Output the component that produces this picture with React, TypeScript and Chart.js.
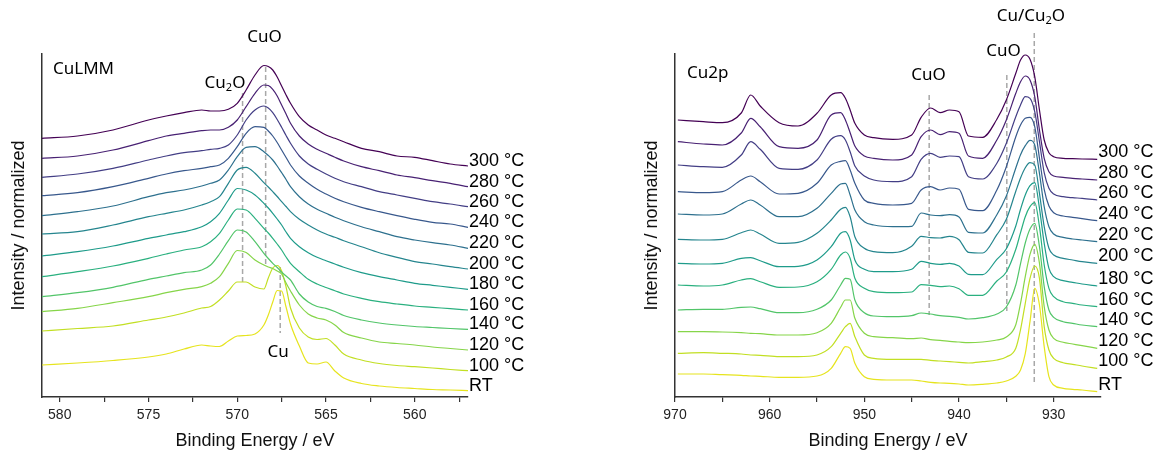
import React, { useEffect, useRef } from 'react';
import { Chart, registerables } from 'chart.js';

Chart.register(...registerables);

// ---------------- shared ----------------
const seriesLabels = ['300 °C', '280 °C', '260 °C', '240 °C', '220 °C', '200 °C', '180 °C', '160 °C', '140 °C', '120 °C', '100 °C', 'RT'];
const seriesColors = ['#440154', '#482173', '#433e85', '#38588c', '#2d708e', '#25858e', '#1e9b8a', '#2ab07f', '#52c569', '#86d549', '#c2df23', '#e6e41e'];

// ---------------- Cu LMM (left panel) ----------------
const lmmEnergy = [581, 579, 577, 575, 574, 573, 572, 571.5, 571, 570.5, 570, 569.5, 569, 568.5, 568.25, 568, 567.75, 567.5, 567.25, 567, 566.5, 566, 565.5, 565, 564.5, 564, 563, 562, 561, 560, 559, 558, 557];
const lmm300 = [25.87, 26.1, 26.7, 27.7, 28.1, 28.43, 28.7, 28.6, 28.6, 28.77, 29.37, 30.7, 32.2, 33.15, 33.05, 32.7, 32.0, 31.1, 30.2, 29.37, 28.03, 27.2, 26.7, 26.2, 25.87, 25.53, 24.87, 24.53, 24.1, 23.97, 23.63, 23.3, 23.1];
const lmm280 = [23.87, 24.1, 24.7, 25.63, 26.1, 26.37, 26.63, 26.7, 26.7, 26.97, 27.7, 29.03, 30.37, 31.2, 31.15, 30.77, 30.1, 29.2, 28.3, 27.37, 26.1, 25.3, 24.77, 24.37, 23.97, 23.6, 23.03, 22.63, 22.2, 21.93, 21.63, 21.37, 21.03];
const lmm260 = [21.97, 22.3, 22.87, 23.7, 24.1, 24.43, 24.63, 24.77, 24.87, 25.2, 26.2, 27.7, 28.7, 29.1, 28.9, 28.43, 27.75, 26.97, 26.15, 25.37, 24.1, 23.3, 22.77, 22.3, 21.87, 21.53, 21.03, 20.53, 20.2, 19.87, 19.53, 19.3, 19.03];
const lmm240 = [20.13, 20.43, 21.03, 21.87, 22.3, 22.63, 22.87, 23.03, 23.2, 23.87, 25.03, 26.37, 27.03, 26.97, 26.6, 26.1, 25.45, 24.7, 23.95, 23.2, 22.1, 21.37, 20.77, 20.3, 19.87, 19.53, 18.97, 18.53, 18.13, 17.77, 17.47, 17.3, 16.97];
const lmm220 = [18.13, 18.53, 19.1, 20.03, 20.43, 20.7, 21.1, 21.37, 21.7, 22.7, 24.03, 24.97, 25.03, 24.53, 24.15, 23.7, 23.1, 22.43, 21.75, 21.03, 20.03, 19.3, 18.77, 18.37, 17.97, 17.63, 17.03, 16.53, 16.03, 15.7, 15.43, 15.2, 14.87];
const lmm200 = [16.3, 16.53, 17.2, 18.03, 18.37, 18.7, 19.2, 19.53, 20.03, 21.37, 22.7, 22.97, 22.37, 21.43, 21.0, 20.53, 20.05, 19.53, 19.05, 18.53, 17.77, 17.2, 16.7, 16.3, 15.97, 15.63, 15.03, 14.43, 13.97, 13.53, 13.3, 13.03, 12.8];
const lmm180 = [14.1, 14.53, 15.1, 15.87, 16.2, 16.53, 17.03, 17.53, 18.37, 19.7, 20.85, 20.7, 20.2, 19.37, 18.9, 18.37, 17.8, 17.2, 16.5, 15.87, 15.03, 14.43, 13.97, 13.63, 13.3, 12.97, 12.43, 12.03, 11.7, 11.37, 11.17, 10.97, 10.77];
const lmm160 = [12.03, 12.53, 13.1, 13.87, 14.3, 14.7, 15.03, 15.53, 16.37, 17.7, 18.8, 18.7, 17.87, 16.87, 16.4, 15.87, 15.3, 14.7, 14.0, 13.37, 12.53, 11.77, 11.3, 10.95, 10.63, 10.3, 9.87, 9.53, 9.3, 9.1, 8.97, 8.83, 8.7];
const lmm140 = [10.03, 10.43, 10.97, 11.77, 12.1, 12.43, 12.7, 13.2, 14.3, 15.63, 16.7, 16.5, 15.53, 14.37, 13.85, 13.37, 12.95, 12.5, 12.1, 11.7, 10.3, 9.5, 9.05, 8.87, 8.55, 8.15, 7.7, 7.4, 7.2, 7.05, 6.95, 6.85, 6.77];
const lmm120 = [8.53, 8.87, 9.43, 10.03, 10.43, 10.77, 11.03, 11.37, 12.03, 13.37, 14.65, 14.45, 13.7, 13.2, 13.0, 12.85, 12.6, 12.3, 11.4, 10.6, 9.2, 8.3, 7.9, 7.7, 7.2, 6.45, 5.9, 5.5, 5.35, 5.2, 5.0, 4.85, 4.7];
const lmm100 = [6.6, 6.85, 7.1, 7.7, 8.0, 8.4, 8.9, 9.05, 9.7, 10.6, 11.5, 11.5, 11.0, 10.8, 11.9, 12.9, 13.15, 12.6, 11.0, 8.9, 6.9, 6.0, 5.75, 5.85, 5.2, 4.3, 3.7, 3.35, 3.15, 3.03, 2.9, 2.75, 2.63];
const lmmRT = [3.2, 3.4, 3.65, 4.0, 4.3, 4.8, 5.2, 5.1, 5.05, 5.6, 6.1, 6.15, 6.3, 7.2, 8.2, 9.5, 10.65, 10.6, 9.0, 7.3, 5.1, 3.4, 3.3, 3.5, 2.6, 1.9, 1.35, 1.1, 0.95, 0.85, 0.75, 0.7, 0.63];
const lmmSeries = [lmm300, lmm280, lmm260, lmm240, lmm220, lmm200, lmm180, lmm160, lmm140, lmm120, lmm100, lmmRT];
const lmmTicks = [580, 577.5, 575, 572.5, 570, 567.5, 565, 562.5, 560, 557.5];
const lmmMarkers = [
  { energy: 569.7, top: 30.4, bottom: 11.3 },
  { energy: 568.4, top: 33.0, bottom: 13.0 },
  { energy: 567.58, top: 13.0, bottom: 6.4 },
];
const lmmTexts = [
  { text: 'CuLMM', energy: 580.38, value: 32.8, align: 'left' },
  { text: 'Cu_2O', energy: 570.69, value: 31.43, align: 'center' },
  { text: 'CuO', energy: 568.46, value: 35.95, align: 'center' },
  { text: 'Cu', energy: 567.7, value: 4.5, align: 'center' },
];

// ---------------- Cu 2p (right panel) ----------------
const cu2pEnergy = [969.7, 967, 965, 963, 962, 961, 959, 957, 955, 953.5, 952.5, 952, 951.5, 951, 950, 949, 947, 945, 944, 943, 942, 941, 940, 939, 937.5, 936, 935, 934, 933.5, 933, 932.5, 932, 931.5, 931, 930.5, 930, 929, 928, 927, 925.4];
const cu2p300 = [27.7, 27.53, 27.43, 28.4, 30.2, 29.1, 27.43, 27.1, 28.37, 30.2, 30.43, 29.87, 28.7, 27.37, 26.2, 25.93, 25.77, 26.2, 27.97, 28.9, 28.43, 28.7, 28.53, 26.1, 25.97, 27.77, 29.7, 32.37, 33.7, 34.2, 33.77, 32.03, 28.7, 25.7, 24.43, 24.03, 23.87, 23.83, 23.8, 23.77];
const cu2p280 = [25.53, 25.3, 25.2, 26.4, 27.87, 27.03, 25.03, 24.87, 25.7, 28.2, 28.43, 27.7, 26.43, 25.1, 24.1, 23.87, 23.7, 24.2, 26.03, 26.7, 26.23, 26.53, 26.37, 24.1, 23.87, 25.7, 27.7, 30.37, 31.53, 32.1, 31.7, 30.03, 26.7, 23.87, 22.53, 22.1, 21.97, 21.87, 21.8, 21.7];
const cu2p260 = [23.2, 23.03, 22.97, 24.2, 25.53, 24.77, 22.87, 22.77, 23.7, 25.77, 26.13, 25.7, 24.53, 23.1, 22.1, 21.7, 21.53, 22.03, 23.77, 24.37, 23.97, 24.1, 24.03, 22.03, 21.8, 23.37, 25.37, 28.03, 29.2, 30.03, 29.87, 28.53, 25.53, 22.43, 20.87, 20.3, 20.03, 19.93, 19.87, 19.7];
const cu2p240 = [20.53, 20.43, 20.53, 21.7, 22.1, 21.53, 20.3, 20.37, 21.37, 23.2, 23.57, 23.63, 22.7, 21.37, 19.7, 19.37, 19.2, 19.37, 20.7, 21.03, 20.7, 20.9, 20.77, 18.77, 18.63, 20.7, 23.03, 26.03, 27.2, 27.87, 27.97, 27.03, 23.87, 20.77, 19.1, 18.43, 18.1, 17.97, 17.83, 17.63];
const cu2p220 = [18.3, 18.2, 18.3, 19.3, 19.7, 19.2, 18.03, 18.03, 18.87, 20.37, 21.3, 21.37, 20.2, 18.7, 17.53, 17.2, 17.03, 17.07, 18.4, 18.2, 18.13, 18.23, 18.0, 16.47, 16.4, 18.23, 20.1, 22.9, 24.23, 25.13, 25.67, 25.2, 22.37, 19.03, 17.03, 16.3, 15.97, 15.8, 15.7, 15.53];
const cu2p200 = [15.77, 15.7, 15.77, 16.43, 16.7, 16.3, 15.37, 15.47, 16.37, 17.7, 18.77, 18.97, 18.03, 16.03, 14.87, 14.53, 14.43, 15.07, 16.07, 15.93, 15.9, 16.07, 15.73, 14.47, 14.4, 16.23, 17.77, 20.57, 21.9, 22.93, 23.43, 23.2, 20.37, 17.03, 14.87, 14.2, 13.87, 13.7, 13.53, 13.37];
const cu2p180 = [13.37, 13.3, 13.37, 13.87, 13.93, 13.63, 13.03, 13.07, 13.7, 15.03, 16.37, 16.53, 15.7, 13.7, 12.77, 12.53, 12.53, 12.77, 13.57, 13.37, 13.27, 13.37, 13.1, 12.27, 12.23, 13.77, 14.83, 17.1, 18.77, 20.2, 21.13, 21.43, 18.87, 15.37, 12.87, 12.03, 11.63, 11.47, 11.3, 11.1];
const cu2p160 = [11.2, 11.1, 11.2, 11.7, 11.83, 11.53, 10.97, 11.0, 11.53, 12.77, 14.2, 14.5, 13.87, 11.87, 10.87, 10.53, 10.43, 10.5, 11.23, 11.17, 11.03, 11.1, 10.83, 10.17, 10.17, 11.6, 12.5, 14.77, 16.43, 18.03, 19.03, 19.43, 17.03, 13.2, 10.87, 10.03, 9.53, 9.37, 9.2, 9.03];
const cu2p140 = [8.7, 8.77, 8.77, 8.97, 9.0, 8.83, 8.43, 8.43, 8.77, 9.7, 11.2, 11.87, 11.77, 9.7, 8.43, 8.1, 8.03, 8.13, 8.4, 8.3, 8.13, 8.07, 7.97, 7.8, 7.93, 8.3, 9.0, 11.2, 13.33, 15.4, 16.8, 17.37, 15.03, 11.03, 8.7, 7.97, 7.53, 7.37, 7.2, 7.03];
const cu2p120 = [6.53, 6.53, 6.5, 6.43, 6.37, 6.33, 6.2, 6.2, 6.43, 7.37, 8.97, 9.7, 9.7, 7.87, 6.37, 6.03, 5.93, 5.83, 5.9, 5.73, 5.67, 5.57, 5.5, 5.43, 5.5, 5.7, 6.0, 7.23, 9.37, 12.03, 14.27, 15.27, 13.37, 9.03, 6.7, 5.87, 5.47, 5.3, 5.13, 4.87];
const cu2p100 = [4.37, 4.43, 4.37, 4.3, 4.2, 4.17, 4.03, 4.03, 4.2, 5.03, 6.37, 7.03, 7.37, 6.03, 4.2, 3.87, 3.77, 3.77, 3.77, 3.67, 3.6, 3.53, 3.47, 3.4, 3.53, 3.7, 4.0, 4.87, 6.73, 9.37, 11.87, 13.1, 11.87, 7.03, 4.7, 3.87, 3.43, 3.27, 3.1, 2.87];
const cu2pRT = [2.3, 2.3, 2.23, 2.17, 2.1, 2.07, 1.97, 1.97, 2.1, 2.87, 4.37, 5.03, 4.87, 3.37, 2.03, 1.77, 1.7, 1.7, 1.6, 1.47, 1.4, 1.37, 1.3, 1.2, 1.27, 1.4, 1.6, 2.07, 2.7, 4.33, 7.53, 10.87, 9.2, 5.03, 2.03, 1.2, 0.87, 0.77, 0.7, 0.53];
const cu2pSeries = [cu2p300, cu2p280, cu2p260, cu2p240, cu2p220, cu2p200, cu2p180, cu2p160, cu2p140, cu2p120, cu2p100, cu2pRT];
const cu2pTicks = [970, 965, 960, 955, 950, 945, 940, 935, 930];
const cu2pMarkers = [
  { energy: 943.15, top: 30.2, bottom: 8.2 },
  { energy: 934.95, top: 32.2, bottom: 8.6 },
  { energy: 932.05, top: 36.4, bottom: 1.2 },
];
const cu2pTexts = [
  { text: 'Cu2p', energy: 968.73, value: 32.4, align: 'left' },
  { text: 'CuO', energy: 943.22, value: 32.2, align: 'center' },
  { text: 'CuO', energy: 935.3, value: 34.6, align: 'center' },
  { text: 'Cu/Cu_2O', energy: 932.4, value: 38.1, align: 'center' },
];

const Y_MAX = 34.3;
const AXIS_COLOR = '#333333';
const TICK_FONT = { family: '"Liberation Sans", Arial, sans-serif', size: 14 };
const TITLE_FONT = { family: '"Liberation Sans", Arial, sans-serif', size: 18 };

function drawRichText(ctx: CanvasRenderingContext2D, text: string, x: number, y: number, align: string) {
  const parts = text
    .split(/(_\d)/)
    .filter((p) => p.length > 0)
    .map((p) => (p[0] === '_' ? { t: p.slice(1), sub: true } : { t: p, sub: false }));
  const mainFont = '17px "Noto Sans", "DejaVu Sans", sans-serif';
  const subFont = '11px "Noto Sans", "DejaVu Sans", sans-serif';
  let total = 0;
  const widths = parts.map((p) => {
    ctx.font = p.sub ? subFont : mainFont;
    const w = ctx.measureText(p.t).width;
    total += w;
    return w;
  });
  let cx = align === 'center' ? x - total / 2 : align === 'right' ? x - total : x;
  ctx.textAlign = 'left';
  ctx.textBaseline = 'middle';
  ctx.fillStyle = '#000';
  parts.forEach((p, i) => {
    ctx.font = p.sub ? subFont : mainFont;
    ctx.fillText(p.t, cx, p.sub ? y + 5 : y);
    cx += widths[i];
  });
}

type PanelProps = {
  energy: number[];
  series: number[][];
  min: number;
  max: number;
  ticks: number[];
  labelStep: number;
  markers: { energy: number; top: number; bottom: number }[];
  texts: { text: string; energy: number; value: number; align: string }[];
  left: number;
  width: number;
  rightPad: number;
  labelDy: number;
};

function SpectrumPanel(props: PanelProps) {
  const ref = useRef<HTMLCanvasElement | null>(null);

  useEffect(() => {
    if (!ref.current) return;
    const annotations = {
      id: 'spectrumAnnotations',
      beforeDatasetsDraw(chart: any) {
        const { ctx } = chart;
        const xs = chart.scales.x;
        const ys = chart.scales.y;
        ctx.save();
        ctx.setLineDash([5, 3]);
        ctx.strokeStyle = '#a8a8a8';
        ctx.lineWidth = 1.5;
        props.markers.forEach((m) => {
          const x = xs.getPixelForValue(m.energy);
          ctx.beginPath();
          ctx.moveTo(x, ys.getPixelForValue(m.top));
          ctx.lineTo(x, ys.getPixelForValue(m.bottom));
          ctx.stroke();
        });
        ctx.restore();
      },
      afterDatasetsDraw(chart: any) {
        const { ctx } = chart;
        const xs = chart.scales.x;
        const ys = chart.scales.y;
        ctx.save();
        ctx.font = '18px "Liberation Sans", Arial, sans-serif';
        ctx.fillStyle = '#000';
        ctx.textAlign = 'left';
        ctx.textBaseline = 'alphabetic';
        chart.data.datasets.forEach((ds: any, i: number) => {
          const meta = chart.getDatasetMeta(i);
          const pt = meta.data[meta.data.length - 1];
          ctx.fillText(ds.label, pt.x + 1, pt.y + props.labelDy);
        });
        props.texts.forEach((t) => {
          drawRichText(ctx, t.text, xs.getPixelForValue(t.energy), ys.getPixelForValue(t.value), t.align);
        });
        ctx.restore();
      },
    };

    const chart = new Chart(ref.current, {
      type: 'line',
      data: {
        datasets: props.series.map((s, i) => ({
          label: seriesLabels[i],
          data: props.energy.map((e, j) => ({ x: e, y: s[j] })),
          borderColor: seriesColors[i],
          backgroundColor: seriesColors[i],
          borderWidth: 1.2,
          pointRadius: 0,
          fill: false,
          cubicInterpolationMode: 'monotone',
          clip: false,
        })),
      },
      options: {
        responsive: false,
        animation: false,
        devicePixelRatio: 1,
        events: [],
        layout: { padding: { top: 54, right: props.rightPad, left: 0, bottom: 0 } },
        plugins: { legend: { display: false }, tooltip: { enabled: false } },
        scales: {
          x: {
            type: 'linear',
            reverse: true,
            min: props.min,
            max: props.max,
            afterFit: (s: any) => {
              s.height = 55;
            },
            afterBuildTicks: (s: any) => {
              s.ticks = props.ticks.map((v) => ({ value: v }));
            },
            ticks: {
              autoSkip: false,
              maxRotation: 0,
              minRotation: 0,
              padding: 5,
              color: '#222',
              font: TICK_FONT,
              callback: (v: any) => (Math.abs(v % props.labelStep) < 1e-9 ? String(v) : ''),
            },
            grid: { drawOnChartArea: false, drawTicks: true, tickLength: 5, color: AXIS_COLOR, lineWidth: 1.2 },
            border: { display: true, color: AXIS_COLOR, width: 1.5 },
            title: {
              display: true,
              text: 'Binding Energy / eV',
              color: '#111',
              font: TITLE_FONT,
              padding: { top: 0, bottom: 0 },
            },
          },
          y: {
            type: 'linear',
            min: 0,
            max: Y_MAX,
            afterFit: (s: any) => {
              s.width = 42;
            },
            ticks: { display: false },
            grid: { display: false },
            border: { display: true, color: AXIS_COLOR, width: 1.5 },
            title: {
              display: true,
              text: 'Intensity / normalized',
              color: '#111',
              font: TITLE_FONT,
              padding: { top: 8, bottom: 0 },
            },
          },
        },
      } as any,
      plugins: [annotations],
    });
    return () => chart.destroy();
  }, []);

  return (
    <canvas
      ref={ref}
      width={props.width}
      height={452}
      style={{ position: 'absolute', left: props.left, top: 0, width: props.width, height: 452 }}
    />
  );
}

export default function App() {
  return (
    <div style={{ position: 'absolute', left: 0, top: 0, width: 1162, height: 452, background: '#fff' }}>
      <SpectrumPanel
        energy={lmmEnergy}
        series={lmmSeries}
        min={557}
        max={581}
        ticks={lmmTicks}
        labelStep={5}
        markers={lmmMarkers}
        texts={lmmTexts}
        left={0}
        width={580}
        rightPad={112}
        labelDy={0}
      />
      <SpectrumPanel
        energy={cu2pEnergy}
        series={cu2pSeries}
        min={925}
        max={970}
        ticks={cu2pTicks}
        labelStep={10}
        markers={cu2pMarkers}
        texts={cu2pTexts}
        left={633}
        width={529}
        rightPad={61}
        labelDy={-2}
      />
    </div>
  );
}
